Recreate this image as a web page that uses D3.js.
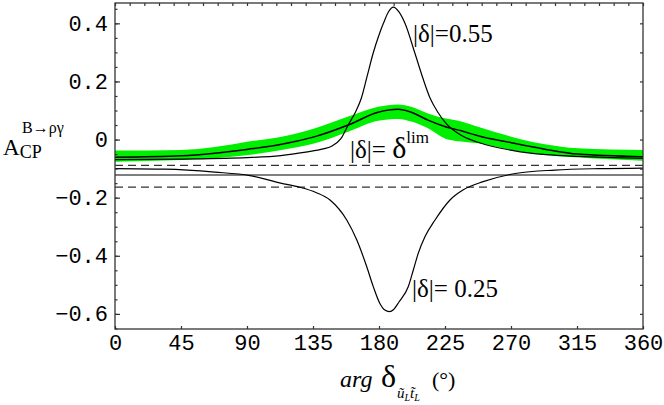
<!DOCTYPE html>
<html>
<head>
<meta charset="utf-8">
<script src="https://cdn.jsdelivr.net/npm/d3@7"></script>
<style>
  body { margin: 0; background: #fff; }
  svg { display: block; }
</style>
</head>
<body>
<svg id="chart" width="664" height="405"></svg>
<script>
// values
var xTicks = [0, 45, 90, 135, 180, 225, 270, 315, 360];
var yTicks = [-0.6, -0.4, -0.2, 0, 0.2, 0.4];

// |delta| = 0.55
var deg55 = [0, 45, 90, 113, 130, 142, 148, 154, 159, 164, 168, 172, 176, 180, 183, 186.5, 189.8, 193.5, 197.7, 204.5, 210, 214.8, 220, 226, 237, 249, 271.6, 294, 317, 360];
var acp55 = [-0.069, -0.067, -0.062, -0.055, -0.043, -0.032, -0.022, 0.003, 0.05, 0.095, 0.143, 0.22, 0.297, 0.36, 0.40, 0.44, 0.456, 0.44, 0.40, 0.297, 0.21, 0.143, 0.095, 0.054, 0.012, -0.012, -0.038, -0.052, -0.058, -0.065];

// |delta| = 0.25
var deg25 = [0, 34, 68, 92, 113, 126, 137, 146.6, 158, 164.8, 171.6, 176.1, 180.7, 184, 187, 190, 193.5, 200, 203.4, 206.8, 211.4, 218.2, 228.4, 237.5, 251, 274, 300, 330, 360];
var acp25 = [-0.100, -0.102, -0.112, -0.124, -0.15, -0.164, -0.182, -0.208, -0.277, -0.345, -0.437, -0.506, -0.565, -0.587, -0.592, -0.585, -0.56, -0.506, -0.449, -0.391, -0.334, -0.277, -0.208, -0.173, -0.145, -0.116, -0.105, -0.100, -0.098];

// |delta| = delta^lim, with its green band
var degLim = [0, 45.5, 68, 91, 113.6, 136.4, 159, 179.4, 193, 202, 213.4, 224.8, 236.1, 247.5, 270.2, 293, 315.7, 360];
var acpLim = [-0.061, -0.056, -0.047, -0.033, -0.016, 0.010, 0.050, 0.094, 0.104, 0.094, 0.067, 0.045, 0.030, 0.013, -0.011, -0.033, -0.050, -0.059];
var bandHi = [-0.038, -0.036, -0.026, -0.007, 0.010, 0.039, 0.079, 0.113, 0.121, 0.113, 0.090, 0.073, 0.062, 0.044, 0.010, -0.016, -0.030, -0.036];
var bandLo = [-0.076, -0.070, -0.064, -0.053, -0.036, -0.013, 0.027, 0.065, 0.071, 0.062, 0.039, 0.004, -0.007, -0.013, -0.036, -0.053, -0.062, -0.073];

// horizontal reference lines
var refSolid = [-0.122];
var refDashed = [-0.089, -0.164];

var svg = d3.select("#chart");
var pLeft = 115, pRight = 643, pTop = 3, pBottom = 329;

var x = d3.scaleLinear().domain([0, 360]).range([pLeft, pRight]);
var y = d3.scaleLinear().domain([-0.652, 0.47]).range([pBottom, pTop]);

var mono = "'Liberation Mono', 'Courier New', monospace";
var serif = "'Liberation Serif', 'Times New Roman', serif";

// green band
var band = d3.area()
    .x(function(d, i) { return x(degLim[i]); })
    .y0(function(d, i) { return y(bandLo[i]); })
    .y1(function(d, i) { return y(bandHi[i]); })
    .curve(d3.curveMonotoneX);
svg.append("path")
    .datum(degLim)
    .attr("d", band)
    .attr("fill", "#00ee00");

// reference lines
svg.selectAll(".refSolid")
    .data(refSolid)
  .enter().append("line")
    .attr("x1", pLeft).attr("x2", pRight)
    .attr("y1", function(d) { return y(d); })
    .attr("y2", function(d) { return y(d); })
    .attr("stroke", "#555").attr("stroke-width", 1.6);
svg.selectAll(".refDashed")
    .data(refDashed)
  .enter().append("line")
    .attr("x1", pLeft).attr("x2", pRight)
    .attr("y1", function(d) { return y(d); })
    .attr("y2", function(d) { return y(d); })
    .attr("stroke", "#333").attr("stroke-width", 1.3)
    .attr("stroke-dasharray", "8,5");

function curve(degs, vals, w) {
    var line = d3.line()
        .x(function(d, i) { return x(degs[i]); })
        .y(function(d, i) { return y(vals[i]); })
        .curve(d3.curveMonotoneX);
    svg.append("path")
        .datum(vals)
        .attr("d", line)
        .attr("fill", "none")
        .attr("stroke", "#000")
        .attr("stroke-width", w);
}
curve(degLim, acpLim, 1.5);
curve(deg55, acp55, 1.2);
curve(deg25, acp25, 1.2);

// frame and ticks
var axisColor = "#333";
function styleAxis(g) {
    g.select(".domain").remove();
    g.selectAll(".tick line").attr("stroke", axisColor).attr("stroke-width", 1.2);
    g.selectAll(".tick text").attr("fill", "#000").attr("font-family", mono).attr("font-size", 22);
}

svg.append("g")
    .attr("transform", "translate(0," + pBottom + ")")
    .call(d3.axisBottom(x).tickValues(xTicks).tickSize(-3).tickPadding(5).tickFormat(d3.format("d")))
    .call(styleAxis);

svg.append("g")
    .attr("transform", "translate(" + pLeft + ",0)")
    .call(d3.axisLeft(y).tickValues(yTicks).tickSize(-5).tickPadding(7)
        .tickFormat(function(d) { return d === 0 ? "0" : d3.format(".1f")(d); }))
    .call(styleAxis);

svg.append("g")
    .attr("transform", "translate(" + pLeft + ",0)")
    .call(d3.axisLeft(y).tickValues(d3.range(-0.65, 0.46, 0.05)).tickSize(-2.5).tickFormat(""))
    .call(styleAxis);

svg.append("g")
    .attr("transform", "translate(0," + pTop + ")")
    .call(d3.axisTop(x).tickValues(d3.range(0, 361, 10)).tickSize(-3).tickFormat(""))
    .call(styleAxis);

svg.append("g")
    .attr("transform", "translate(" + pRight + ",0)")
    .call(d3.axisRight(y).tickValues(d3.range(-0.6, 0.41, 0.1)).tickSize(-3).tickFormat(""))
    .call(styleAxis);

svg.append("rect")
    .attr("x", pLeft).attr("y", pTop)
    .attr("width", pRight - pLeft).attr("height", pBottom - pTop)
    .attr("fill", "none").attr("stroke", axisColor).attr("stroke-width", 1.3);

// y label
var yl = svg.append("text").attr("font-family", serif).attr("x", 3).attr("y", 155);
yl.append("tspan").attr("font-size", 23).text("A");
yl.append("tspan").attr("font-size", 18).attr("dy", 3).text("CP");
svg.append("text").attr("font-family", serif).attr("font-size", 16)
    .attr("x", 22).attr("y", 133).text("B\u2192\u03c1\u03b3");

// x label
svg.append("text").attr("font-family", serif).attr("font-style", "italic").attr("font-size", 24)
    .attr("x", 340).attr("y", 387).text("arg");
svg.append("text").attr("font-family", serif).attr("font-size", 32)
    .attr("x", 381).attr("y", 387).text("\u03b4");
var sub = svg.append("text").attr("font-family", serif).attr("font-style", "italic").attr("x", 397).attr("y", 398);
sub.append("tspan").attr("font-size", 15).text("\u0169");
sub.append("tspan").attr("font-size", 10).attr("dy", 3).text("L");
sub.append("tspan").attr("font-size", 15).attr("dy", -3).text("t\u0303");
sub.append("tspan").attr("font-size", 10).attr("dy", 3).text("L");
svg.append("text").attr("font-family", serif).attr("font-size", 22)
    .attr("x", 432).attr("y", 387).text("(\u00b0)");

// curve labels
svg.append("text").attr("font-family", serif).attr("font-size", 25)
    .attr("x", 413).attr("y", 42).text("|\u03b4|=0.55");
svg.append("text").attr("font-family", serif).attr("font-size", 25)
    .attr("x", 412).attr("y", 297).text("|\u03b4|= 0.25");
var lim = svg.append("text").attr("font-family", serif).attr("x", 350).attr("y", 158);
lim.append("tspan").attr("font-size", 25).text("|\u03b4|= ");
lim.append("tspan").attr("font-size", 30).text("\u03b4");
lim.append("tspan").attr("font-size", 17).attr("dy", -15).text("lim");
</script>
</body>
</html>
